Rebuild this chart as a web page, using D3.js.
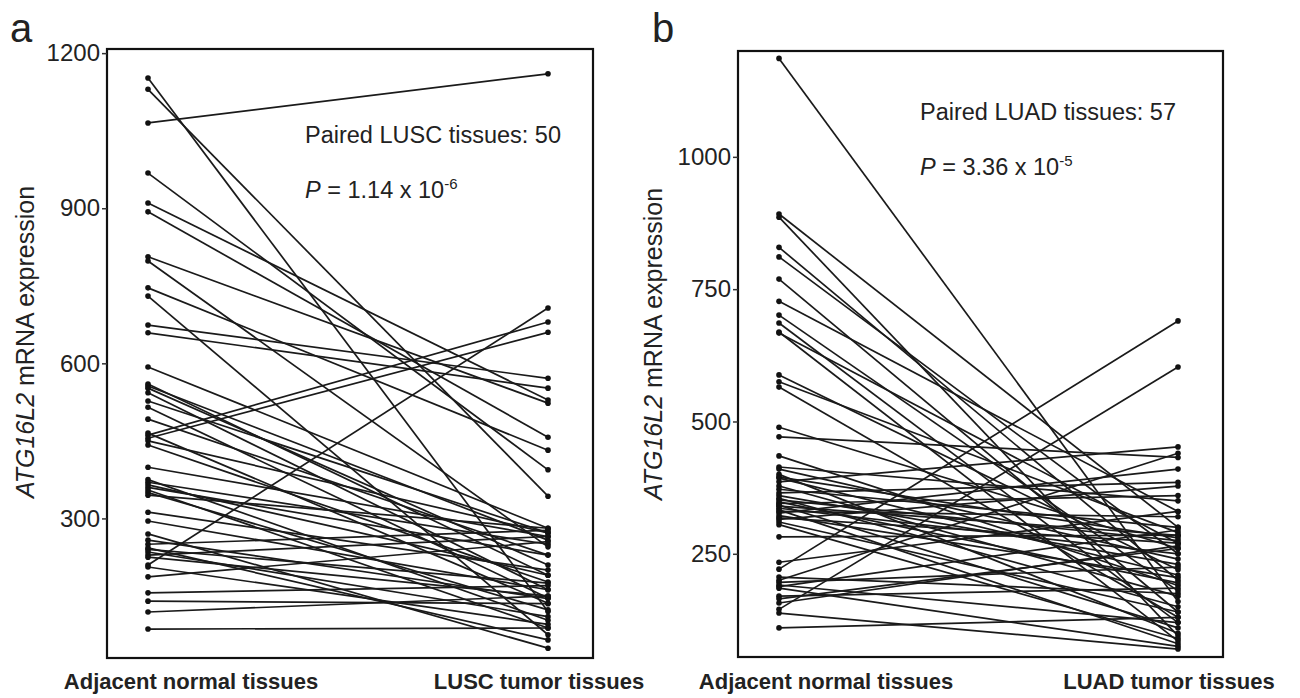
<!DOCTYPE html>
<html>
<head>
<meta charset="utf-8">
<script src="https://cdn.jsdelivr.net/npm/d3@7"></script>
<style>
  body { margin: 0; background: #fff; }
  svg text { font-family: Arial, "Liberation Sans", sans-serif; fill: #222; }
</style>
</head>
<body>
<svg id="chart" width="1300" height="698"></svg>
<script>
// panel a : LUSC, 50 pairs (normal -> tumor)
const luscNormal = [1152, 1130, 1065, 968, 910, 893, 806, 798, 746, 730, 674, 659, 593, 560, 556, 552, 543, 527, 515, 492,
  465, 461, 455, 450, 442, 399, 375, 370, 365, 360, 355, 350, 345, 312, 295, 270, 258, 250, 243, 240,
  235, 229, 225, 210, 206, 187, 156, 140, 119, 86];
const luscTumor = [120, 343, 1160, 394, 529, 457, 523, 245, 432, 75, 571, 552, 281, 190, 258, 210, 162, 272, 146, 229,
  136, 680, 660, 272, 177, 265, 103, 250, 190, 229, 88, 123, 281, 200, 162, 49, 145, 277, 65, 175,
  110, 265, 150, 707, 95, 255, 170, 135, 150, 88];

// panel b : LUAD, 57 pairs
const luadNormal = [1186, 892, 886, 829, 811, 769, 727, 701, 686, 669, 667, 588, 575, 565, 489, 471, 435, 414, 410, 400,
  395, 393, 386, 378, 372, 365, 360, 355, 352, 348, 345, 342, 340, 336, 333, 330, 327, 322, 318, 315,
  310, 305, 282, 234, 221, 206, 200, 196, 191, 188, 185, 170, 165, 157, 145, 138, 110];
const luadTumor = [160, 300, 95, 200, 250, 140, 330, 180, 120, 85, 270, 220, 290, 130, 260, 432, 190, 350, 240, 100,
  280, 210, 452, 170, 300, 385, 230, 150, 275, 195, 360, 110, 285, 250, 80, 320, 410, 205, 270, 378,
  140, 90, 285, 330, 690, 175, 440, 225, 120, 295, 75, 185, 260, 265, 603, 70, 130];

const luscTicks = [300, 600, 900, 1200];
const luadTicks = [250, 500, 750, 1000];
const luscGroups = ["Adjacent normal tissues", "LUSC tumor tissues"];
const luadGroups = ["Adjacent normal tissues", "LUAD tumor tissues"];

const svg = d3.select("#chart");

function drawPanel(cfg) {
  const g = svg.append("g");

  let x = d3.scalePoint().domain(cfg.groups).range([cfg.left + 41, cfg.right - 45]);
  let y = d3.scaleLinear().domain(cfg.domain).range([cfg.bottom, cfg.top]);

  // frame
  g.append("rect")
    .attr("x", cfg.left).attr("y", cfg.top)
    .attr("width", cfg.right - cfg.left).attr("height", cfg.bottom - cfg.top)
    .attr("fill", "none").attr("stroke", "#111").attr("stroke-width", 2.2);

  // y axis ticks + labels
  let axis = g.append("g")
    .attr("transform", `translate(${cfg.left},0)`)
    .call(d3.axisLeft(y).tickValues(cfg.ticks).tickSize(5).tickPadding(2).tickFormat(d3.format("d")));
  axis.select(".domain").remove();
  axis.selectAll("line").attr("stroke", "#333").attr("stroke-width", 1.5);
  axis.selectAll("text")
    .style("font-size", "24px")
    .attr("fill", "#333")
    .style("font-family", "Arial, 'Liberation Sans', sans-serif");

  // paired lines
  let pairs = cfg.normal.map((v, i) => ({ n: v, t: cfg.tumor[i] }));
  g.selectAll(".pair")
    .data(pairs)
    .enter()
    .append("line")
    .attr("class", "pair")
    .attr("x1", x(cfg.groups[0]))
    .attr("x2", x(cfg.groups[1]))
    .attr("y1", d => y(d.n))
    .attr("y2", d => y(d.t))
    .attr("stroke", "#1a1a1a")
    .attr("stroke-width", 1.7);

  // dots at both ends
  let dots = [];
  pairs.forEach(d => {
    dots.push({ gx: cfg.groups[0], v: d.n });
    dots.push({ gx: cfg.groups[1], v: d.t });
  });
  g.selectAll(".dot")
    .data(dots)
    .enter()
    .append("circle")
    .attr("cx", d => x(d.gx))
    .attr("cy", d => y(d.v))
    .attr("r", 2.8)
    .attr("fill", "#111");

  // group labels under the box
  g.selectAll(".glabel")
    .data(cfg.groups)
    .enter()
    .append("text")
    .attr("x", (d, i) => cfg.labelX[i])
    .attr("y", 689)
    .attr("text-anchor", "middle")
    .style("font-size", "22px")
    .style("font-weight", "bold")
    .attr("fill", "#111")
    .text(d => d);

  // y axis title
  let title = g.append("text")
    .attr("transform", `translate(${cfg.titleX},${cfg.titleY}) rotate(-90)`)
    .attr("text-anchor", "middle")
    .style("font-size", "25px")
    .attr("fill", "#333");
  title.append("tspan").style("font-style", "italic").text("ATG16L2");
  title.append("tspan").text("  mRNA expression");

  // annotation
  g.append("text")
    .attr("x", cfg.noteX).attr("y", cfg.noteY)
    .style("font-size", "23.5px")
    .attr("fill", "#222")
    .text(cfg.note);
  let p = g.append("text")
    .attr("x", cfg.noteX).attr("y", cfg.noteY + 55)
    .style("font-size", "23.5px")
    .attr("fill", "#222");
  p.append("tspan").style("font-style", "italic").text("P");
  p.append("tspan").text(" = " + cfg.pval + " x 10");
  p.append("tspan").attr("dy", -9).style("font-size", "15px").text(cfg.pexp);

  // panel letter
  g.append("text")
    .attr("x", cfg.letterX).attr("y", 42)
    .style("font-size", "40px")
    .attr("fill", "#111")
    .text(cfg.letter);
}

drawPanel({
  letter: "a", letterX: 10,
  groups: luscGroups, normal: luscNormal, tumor: luscTumor,
  ticks: luscTicks, domain: [30, 1208],
  left: 107, right: 593, top: 49, bottom: 658,
  labelX: [191, 539],
  titleX: 34, titleY: 342,
  noteX: 305, noteY: 143, note: "Paired LUSC tissues: 50",
  pval: "1.14", pexp: "-6"
});

drawPanel({
  letter: "b", letterX: 652,
  groups: luadGroups, normal: luadNormal, tumor: luadTumor,
  ticks: luadTicks, domain: [55, 1200],
  left: 738, right: 1223, top: 51, bottom: 657,
  labelX: [826, 1169],
  titleX: 662, titleY: 344,
  noteX: 920, noteY: 120, note: "Paired LUAD tissues: 57",
  pval: "3.36", pexp: "-5"
});
</script>
</body>
</html>
